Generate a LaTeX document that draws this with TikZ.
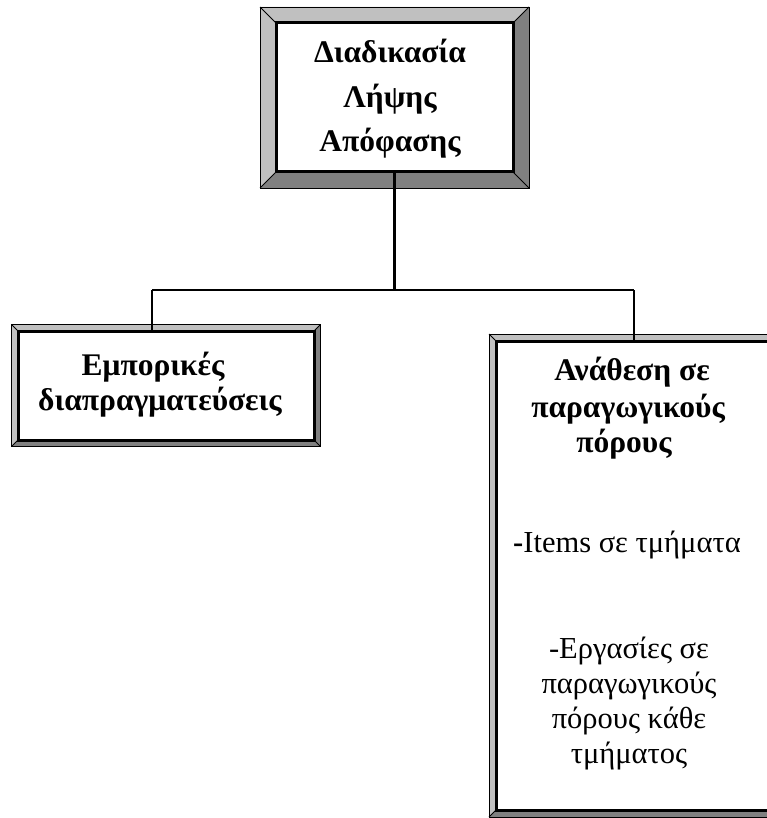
\documentclass[tikz,border=0pt]{standalone}
\usepackage{fontspec}
\setmainfont{Liberation Serif}
\usetikzlibrary{backgrounds}
\definecolor{bevlight}{HTML}{C0C0C0}
\definecolor{bevdark}{HTML}{808080}
\tikzset{
  x=1pt, y=-1pt,
  innerbox/.style={draw, line width=3pt, minimum width=#1, inner sep=0pt, outer sep=0pt},
  titletext/.style={anchor=base, inner sep=0pt, font=\fontsize{31.5}{36}\selectfont\bfseries},
  bodytext/.style={anchor=base, inner sep=0pt, font=\fontsize{30.5}{36}\selectfont},
  link/.style={line width=2.6pt},
  bevedge/.style={line width=0.8pt}
}
% raised frame around a named box: #1 node, #2 frame width
\newcommand\bevelframe[2]{%
  \fill[bevlight] ([shift={(-#2,-#2)}]#1.north west) -- ([shift={(#2,-#2)}]#1.north east)
     -- (#1.north east) -- (#1.north west) -- cycle;
  \fill[bevlight] ([shift={(-#2,-#2)}]#1.north west) -- (#1.north west)
     -- (#1.south west) -- ([shift={(-#2,#2)}]#1.south west) -- cycle;
  \fill[bevdark] ([shift={(-#2,#2)}]#1.south west) -- (#1.south west)
     -- (#1.south east) -- ([shift={(#2,#2)}]#1.south east) -- cycle;
  \fill[bevdark] ([shift={(#2,-#2)}]#1.north east) -- ([shift={(#2,#2)}]#1.south east)
     -- (#1.south east) -- (#1.north east) -- cycle;
  \draw[bevedge] ([shift={(-#2,-#2)}]#1.north west) rectangle ([shift={(#2,#2)}]#1.south east);
  \draw[bevedge] ([shift={(-#2,-#2)}]#1.north west) -- (#1.north west)
                 ([shift={(#2,-#2)}]#1.north east) -- (#1.north east)
                 ([shift={(-#2,#2)}]#1.south west) -- (#1.south west)
                 ([shift={(#2,#2)}]#1.south east) -- (#1.south east);
}
\begin{document}
\begin{tikzpicture}
\useasboundingbox (0,0) rectangle (766,818);

% boxes
\node[innerbox=237pt, minimum height=149pt] (top) at (394.5,97.5) {};
\node[innerbox=296pt, minimum height=109pt] (left) at (166,385.5) {};
\node[innerbox=278pt, minimum height=469pt] (right) at (635,575.5) {};

\begin{scope}[on background layer]
  \fill[white] (0,0) rectangle (766,818);
  \bevelframe{top}{16}
  \bevelframe{left}{6.5}
  \bevelframe{right}{7}
\end{scope}

% connectors
\coordinate (hub) at (394.5,290);
\coordinate (bl) at (152,290);
\coordinate (br) at (634,290);
\draw[link] (top.south) -- (hub);
\draw[link] (bl) -- (br);
\draw[link] (bl) -- (bl |- left.north);
\draw[link] (br) -- (br |- right.north);

% texts of the decision box
\node[titletext] (t1) at (390,63) {Διαδικασία};
\node[titletext] (t2) at (390,108) {Λήψης};
\node[titletext] (t3) at (390,152) {Απόφασης};

% texts of the negotiation box
\node[titletext] (l1) at (153,375) {Εμπορικές};
\node[titletext] (l2) at (160,410) {διαπραγματεύσεις};

% texts of the allocation box
\node[titletext] (r1) at (632,380) {Ανάθεση σε};
\node[titletext] (r2) at (628,417) {παραγωγικούς};
\node[titletext] (r3) at (624,452) {πόρους};
\node[bodytext] (r4) at (627,552) {{\bfseries -}Items σε τμήματα};
\node[bodytext] (r5) at (629,658) {-Εργασίες σε};
\node[bodytext] (r6) at (629,693) {παραγωγικούς};
\node[bodytext] (r7) at (629,728) {πόρους κάθε};
\node[bodytext] (r8) at (629,763) {τμήματος};
\end{tikzpicture}
\end{document}
